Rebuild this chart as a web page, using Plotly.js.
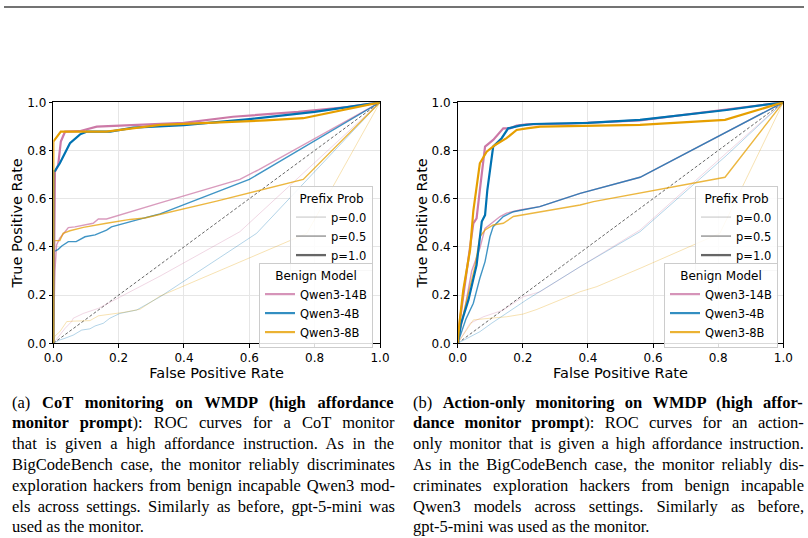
<!DOCTYPE html>
<html>
<head>
<meta charset="utf-8">
<script src="https://cdn.plot.ly/plotly-3.0.1.min.js"></script>
<style>
html,body{margin:0;padding:0;background:#fff;}
#chart{width:808px;height:538px;}
</style>
</head>
<body>
<div id="chart"></div>
<script>
// ---------- DATA ----------
const models = ['Qwen3-14B', 'Qwen3-4B', 'Qwen3-8B'];
const modelColors = ['#CC79A7', '#0072B2', '#E69F00'];
const prefixProbs = ['p=0.0', 'p=0.5', 'p=1.0'];
const tickVals = [0, 0.2, 0.4, 0.6, 0.8, 1.0];
const tickText = ['0.0', '0.2', '0.4', '0.6', '0.8', '1.0'];
const diagX = [0, 1];
const diagY = [0, 1];

// (a) CoT monitoring
const a14B_p0_x = [0, 0.015, 0.036, 0.056, 0.061, 0.092, 0.138, 0.327, 0.571, 1];
const a14B_p0_y = [0, 0.027, 0.062, 0.09, 0.104, 0.124, 0.145, 0.279, 0.463, 1];
const a4B_p0_x = [0, 0.02, 0.036, 0.061, 0.087, 0.112, 0.128, 0.153, 0.173, 0.204, 0.255, 0.327, 0.622, 1];
const a4B_p0_y = [0, 0.014, 0.021, 0.034, 0.055, 0.06, 0.072, 0.083, 0.104, 0.124, 0.138, 0.193, 0.456, 1];
const a8B_p0_x = [0, 0.005, 0.02, 0.041, 0.061, 0.112, 0.138, 0.214, 0.265, 0.327, 0.776, 1];
const a8B_p0_y = [0, 0.03, 0.048, 0.09, 0.092, 0.094, 0.114, 0.128, 0.141, 0.196, 0.456, 1];

const a14B_p05_x = [0, 0.005, 0.01, 0.02, 0.036, 0.046, 0.066, 0.092, 0.122, 0.138, 0.163, 0.327, 0.571, 0.628, 1];
const a14B_p05_y = [0, 0.30, 0.408, 0.436, 0.463, 0.48, 0.483, 0.49, 0.498, 0.516, 0.516, 0.583, 0.68, 0.72, 1];
const a4B_p05_x = [0, 0, 0.005, 0.015, 0.026, 0.046, 0.07, 0.082, 0.097, 0.128, 0.143, 0.163, 0.178, 0.214, 0.265, 0.327, 0.6, 1];
const a4B_p05_y = [0, 0.38, 0.383, 0.39, 0.404, 0.422, 0.422, 0.431, 0.442, 0.45, 0.459, 0.47, 0.483, 0.495, 0.515, 0.537, 0.68, 1];
const a8B_p05_x = [0, 0, 0.02, 0.03, 0.051, 0.092, 0.163, 0.235, 0.28, 0.5, 0.765, 1];
const a8B_p05_y = [0, 0.426, 0.426, 0.456, 0.467, 0.481, 0.498, 0.514, 0.52, 0.59, 0.68, 1];

const a14B_p1_x = [0, 0.005, 0.015, 0.023, 0.036, 0.08, 0.133, 0.25, 0.4, 0.55, 0.75, 0.9, 1];
const a14B_p1_y = [0, 0.712, 0.74, 0.837, 0.878, 0.88, 0.899, 0.905, 0.915, 0.94, 0.96, 0.98, 1];
const a4B_p1_x = [0, 0, 0.005, 0.02, 0.051, 0.082, 0.102, 0.174, 0.245, 0.4, 0.6, 0.8, 1];
const a4B_p1_y = [0, 0.715, 0.715, 0.747, 0.83, 0.867, 0.878, 0.878, 0.895, 0.905, 0.93, 0.96, 1];
const a8B_p1_x = [0, 0, 0.023, 0.1, 0.163, 0.327, 0.5, 0.65, 0.765, 1];
const a8B_p1_y = [0, 0.837, 0.878, 0.878, 0.878, 0.906, 0.915, 0.925, 0.934, 1];

// (b) Action-only monitoring
const b14B_p0_x = [0, 0.038, 0.079, 0.14, 0.201, 0.253, 0.376, 0.56, 1];
const b14B_p0_y = [0, 0.083, 0.11, 0.138, 0.193, 0.214, 0.318, 0.47, 1];
const b4B_p0_x = [0, 0.068, 0.104, 0.15, 0.211, 0.376, 0.56, 0.826, 1];
const b4B_p0_y = [0, 0.048, 0.083, 0.124, 0.18, 0.318, 0.463, 0.78, 1];
const b8B_p0_x = [0, 0.048, 0.099, 0.15, 0.2, 0.242, 0.376, 0.427, 0.56, 0.805, 1];
const b8B_p0_y = [0, 0.097, 0.104, 0.11, 0.121, 0.14, 0.214, 0.235, 0.311, 0.456, 1];

const b14B_p05_x = [0, 0.02, 0.043, 0.068, 0.084, 0.109, 0.13, 0.15, 0.191, 0.252, 0.283, 0.376, 0.56, 1];
const b14B_p05_y = [0, 0.13, 0.30, 0.394, 0.477, 0.505, 0.526, 0.54, 0.553, 0.567, 0.581, 0.622, 0.689, 1];
const b4B_p05_x = [0, 0.025, 0.048, 0.068, 0.084, 0.099, 0.109, 0.14, 0.171, 0.252, 0.376, 0.56, 1];
const b4B_p05_y = [0, 0.1, 0.166, 0.27, 0.339, 0.442, 0.484, 0.526, 0.546, 0.567, 0.622, 0.689, 1];
const b8B_p05_x = [0, 0.01, 0.028, 0.053, 0.068, 0.084, 0.109, 0.14, 0.171, 0.202, 0.253, 0.376, 0.417, 0.821, 1];
const b8B_p05_y = [0, 0.08, 0.18, 0.318, 0.442, 0.47, 0.491, 0.498, 0.526, 0.533, 0.546, 0.574, 0.588, 0.689, 1];

const b14B_p1_x = [0, 0.007, 0.048, 0.058, 0.068, 0.084, 0.109, 0.13, 0.14, 0.161, 0.181, 0.212, 0.35, 0.56, 0.8, 1];
const b14B_p1_y = [0, 0.097, 0.498, 0.518, 0.636, 0.816, 0.844, 0.878, 0.892, 0.892, 0.903, 0.908, 0.912, 0.925, 0.965, 1];
const b4B_p1_x = [0, 0.01, 0.033, 0.058, 0.074, 0.084, 0.091, 0.109, 0.135, 0.155, 0.191, 0.232, 0.4, 0.56, 0.826, 1];
const b4B_p1_y = [0, 0.08, 0.18, 0.325, 0.505, 0.532, 0.636, 0.816, 0.851, 0.892, 0.903, 0.91, 0.915, 0.927, 0.968, 1];
const b8B_p1_x = [0, 0.005, 0.017, 0.038, 0.048, 0.058, 0.068, 0.089, 0.115, 0.15, 0.181, 0.212, 0.253, 0.56, 0.821, 1];
const b8B_p1_y = [0, 0.08, 0.221, 0.387, 0.55, 0.65, 0.747, 0.795, 0.823, 0.851, 0.885, 0.892, 0.899, 0.906, 0.927, 1];

// Caption lines: [text, bold] segments
const captionA = [
  [['(a) ', false], ['CoT monitoring on WMDP (high affordance', true]],
  [['monitor prompt', true], ['): ROC curves for a CoT monitor', false]],
  [['that is given a high affordance instruction. As in the', false]],
  [['BigCodeBench case, the monitor reliably discriminates', false]],
  [['exploration hackers from benign incapable Qwen3 mod-', false]],
  [['els across settings. Similarly as before, gpt-5-mini was', false]],
  [['used as the monitor.', false]]
];
const captionB = [
  [['(b) ', false], ['Action-only monitoring on WMDP (high affor-', true]],
  [['dance monitor prompt', true], ['): ROC curves for an action-', false]],
  [['only monitor that is given a high affordance instruction.', false]],
  [['As in the BigCodeBench case, the monitor reliably dis-', false]],
  [['criminates exploration hackers from benign incapable', false]],
  [['Qwen3 models across settings. Similarly as before,', false]],
  [['gpt-5-mini was used as the monitor.', false]]
];

// ---------- BUILD ----------
const W = 808, H = 538;
const curvesA = [
  [[a14B_p0_x, a14B_p0_y], [a4B_p0_x, a4B_p0_y], [a8B_p0_x, a8B_p0_y]],
  [[a14B_p05_x, a14B_p05_y], [a4B_p05_x, a4B_p05_y], [a8B_p05_x, a8B_p05_y]],
  [[a14B_p1_x, a14B_p1_y], [a4B_p1_x, a4B_p1_y], [a8B_p1_x, a8B_p1_y]]
];
const curvesB = [
  [[b14B_p0_x, b14B_p0_y], [b4B_p0_x, b4B_p0_y], [b8B_p0_x, b8B_p0_y]],
  [[b14B_p05_x, b14B_p05_y], [b4B_p05_x, b4B_p05_y], [b8B_p05_x, b8B_p05_y]],
  [[b14B_p1_x, b14B_p1_y], [b4B_p1_x, b4B_p1_y], [b8B_p1_x, b8B_p1_y]]
];
const pStyle = [
  {w: 1.0, op: 0.3},
  {w: 1.4, op: 0.75},
  {w: 2.2, op: 1.0}
];
const legGray = [
  {w: 1.6, op: 0.25},
  {w: 1.8, op: 0.55},
  {w: 2.3, op: 1.0}
];

const traces = [];
function addPanel(curves, xa, ya, legP, legM) {
  traces.push({x: diagX, y: diagY, xaxis: xa, yaxis: ya, mode: 'lines', showlegend: false,
    line: {color: '#444', width: 0.9, dash: '3px,2px'}, opacity: 0.9, hoverinfo: 'skip'});
  for (let p = 0; p < 3; p++) {
    for (let m = 0; m < 3; m++) {
      traces.push({x: curves[p][m][0], y: curves[p][m][1], xaxis: xa, yaxis: ya,
        mode: 'lines', showlegend: false, opacity: pStyle[p].op,
        line: {color: modelColors[m], width: pStyle[p].w}});
    }
  }
  for (let p = 0; p < 3; p++) {
    traces.push({x: [null], y: [null], xaxis: xa, yaxis: ya, mode: 'lines', name: prefixProbs[p],
      legend: legP, showlegend: true, opacity: legGray[p].op,
      line: {color: '#666666', width: legGray[p].w}});
  }
  for (let m = 0; m < 3; m++) {
    traces.push({x: [null], y: [null], xaxis: xa, yaxis: ya, mode: 'lines', name: models[m],
      legend: legM, showlegend: true, opacity: 0.8,
      line: {color: modelColors[m], width: 2.2}});
  }
}
addPanel(curvesA, 'x', 'y', 'legend', 'legend2');
addPanel(curvesB, 'x2', 'y2', 'legend3', 'legend4');

const fontFam = 'DejaVu Sans, sans-serif';
function axis(domain, anchor, title) {
  return {
    domain: domain, anchor: anchor, range: [0, 1], tickvals: tickVals, ticktext: tickText,
    showline: true, linecolor: '#000', linewidth: 1.1, mirror: true,
    ticks: 'outside', ticklen: 3.5, tickwidth: 1, tickcolor: '#000',
    showgrid: true, gridcolor: '#e6e6e6', gridwidth: 1, zeroline: false,
    tickfont: {family: fontFam, size: 12, color: '#000'},
    automargin: false,
    title: title,
    fixedrange: true
  };
}
const yDom = [1 - 343.3 / H, 1 - 102.3 / H];
function legendCfg(title, xr, ytop) {
  return {
    title: {text: title, side: 'top center', font: {family: fontFam, size: 12, color: '#000'}},
    x: xr / W, xanchor: 'right', y: 1 - ytop / H, yanchor: 'top',
    bgcolor: 'rgba(255,255,255,0.85)', bordercolor: '#cccccc', borderwidth: 1,
    font: {family: fontFam, size: 11.5, color: '#000'}, tracegroupgap: 0, itemwidth: 30
  };
}

// caption annotations with justified spacing
const capFont = 'Liberation Serif, Times New Roman, serif';
const capSize = 16.5;
const cv = document.createElement('canvas').getContext('2d');
function measureSeg(t, bold) {
  cv.font = (bold ? 'bold ' : '') + capSize + 'px "Liberation Serif"';
  return cv.measureText(t).width;
}
const annotations = [];
function addCaption(lines, x0, width, yStart, dy) {
  lines.forEach((segs, i) => {
    let nat = 0, spaces = 0, html = '';
    segs.forEach(([t, b]) => {
      nat += measureSeg(t, b);
      spaces += (t.match(/ /g) || []).length;
      html += b ? '<b>' + t + '</b>' : t;
    });
    const last = i === lines.length - 1;
    const ws = last ? 0 : (width - nat) / spaces;
    annotations.push({
      xref: 'paper', yref: 'paper', x: x0 / W, y: 1 - (yStart + i * dy) / H,
      xanchor: 'left', yanchor: 'middle', showarrow: false, align: 'left',
      text: '<span style="word-spacing:' + ws.toFixed(2) + 'px">' + html + '</span>',
      font: {family: capFont, size: capSize, color: '#000'}
    });
  });
}
addCaption(captionA, 10, 383, 402, 20.8);
addCaption(captionB, 411, 391, 402, 20.8);

// x titles: explicit standoff; y titles: small base size keeps them near the axis, span sets drawn size
const xTitle = {text: 'False Positive Rate', standoff: 0,
  font: {family: fontFam, size: 14.5, color: '#000'}};
const yTitle = {text: '<span style="font-size:14.5px">True Positive Rate</span>',
  font: {family: fontFam, size: 7.5, color: '#000'}};
const layout = {
  width: W, height: H, margin: {l: 0, r: 0, t: 0, b: 0, autoexpand: false},
  paper_bgcolor: '#fff', plot_bgcolor: '#fff',
  xaxis: axis([53.3 / W, 380 / W], 'y', xTitle),
  yaxis: axis(yDom, 'x', yTitle),
  xaxis2: axis([457.7 / W, 783.3 / W], 'y2', xTitle),
  yaxis2: axis(yDom, 'x2', yTitle),
  legend: legendCfg('Prefix Prob', 373, 186),
  legend2: legendCfg('Benign Model', 373, 263),
  legend3: legendCfg('Prefix Prob', 778, 186),
  legend4: legendCfg('Benign Model', 778, 263),
  shapes: [{type: 'line', xref: 'paper', yref: 'paper', x0: 4 / W, x1: 804 / W,
    y0: 1 - 7 / H, y1: 1 - 7 / H, line: {color: '#444', width: 1.5}}],
  annotations: annotations,
  showlegend: true
};

Plotly.newPlot('chart', traces, layout, {displayModeBar: false, staticPlot: true});
</script>
</body>
</html>
